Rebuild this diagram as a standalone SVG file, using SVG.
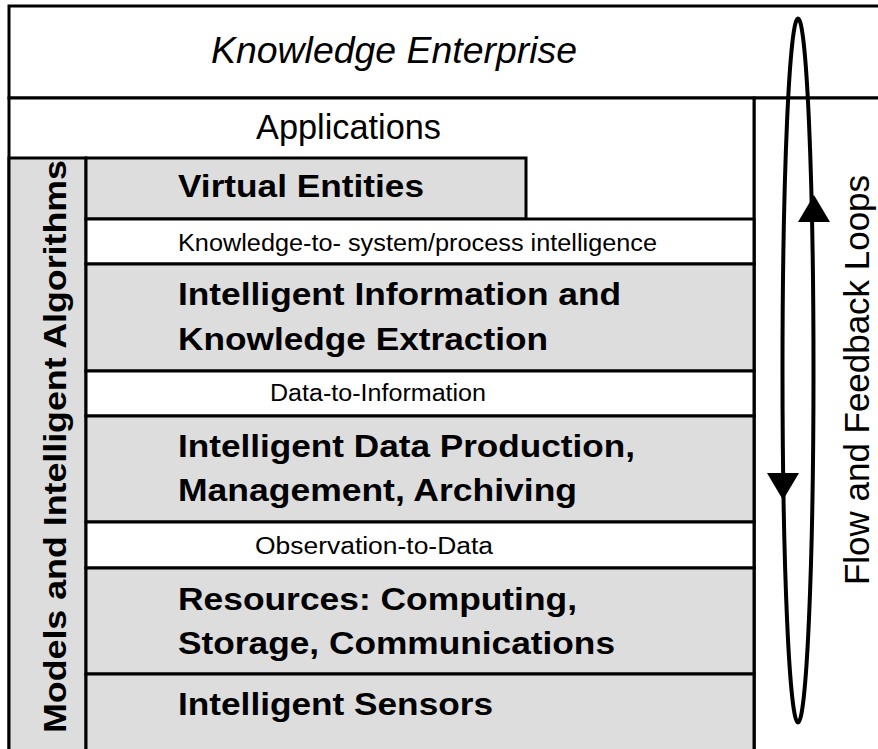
<svg xmlns="http://www.w3.org/2000/svg" width="878" height="749" viewBox="0 0 878 749">
<style>
.box{stroke:#000;stroke-width:3}
.w{fill:#fff}
.g{fill:#dddddd}
text{font-family:"Liberation Sans",Arial,sans-serif;fill:#000}
.big{font-size:32px;font-weight:bold}
.small{font-size:23px}
.loop{fill:none;stroke:#000;stroke-width:4}
</style>
<rect width="878" height="749" fill="#fff"/>
<g id="knowledge-enterprise">
<rect class="box w" x="9" y="6" width="880" height="92"/>
<text x="211" y="63" font-size="36" font-style="italic" textLength="366" lengthAdjust="spacingAndGlyphs">Knowledge Enterprise</text>
</g>
<g id="flow-column">
<rect class="box w" x="754" y="98" width="140" height="660"/>
</g>
<g id="applications">
<rect class="box w" x="9" y="98" width="745" height="660"/>
<text x="256" y="139" font-size="34.3" textLength="185" lengthAdjust="spacingAndGlyphs">Applications</text>
</g>
<g id="models-algorithms">
<rect class="box g" x="9" y="158" width="77" height="600"/>
<text class="big" transform="translate(66 446.5) rotate(-90)" text-anchor="middle" font-size="36" textLength="573" lengthAdjust="spacingAndGlyphs">Models and Intelligent Algorithms</text>
</g>
<g id="virtual-entities">
<rect class="box g" x="86" y="158" width="440" height="61"/>
<text class="big" x="178" y="197" textLength="246" lengthAdjust="spacingAndGlyphs">Virtual Entities</text>
</g>
<g id="knowledge-to-system">
<rect class="box w" x="86" y="219" width="668" height="45"/>
<text class="small" x="178" y="251" textLength="479" lengthAdjust="spacingAndGlyphs">Knowledge-to- system/process intelligence</text>
</g>
<g id="information-extraction">
<rect class="box g" x="86" y="264" width="668" height="107"/>
<text class="big" x="178" y="305" textLength="443" lengthAdjust="spacingAndGlyphs">Intelligent Information and</text>
<text class="big" x="178" y="350" textLength="370" lengthAdjust="spacingAndGlyphs">Knowledge Extraction</text>
</g>
<g id="data-to-information">
<rect class="box w" x="86" y="371" width="668" height="45"/>
<text class="small" x="270" y="401" textLength="216" lengthAdjust="spacingAndGlyphs">Data-to-Information</text>
</g>
<g id="data-production">
<rect class="box g" x="86" y="416" width="668" height="106"/>
<text class="big" x="178" y="457" textLength="457" lengthAdjust="spacingAndGlyphs">Intelligent Data Production,</text>
<text class="big" x="178" y="501" textLength="399" lengthAdjust="spacingAndGlyphs">Management, Archiving</text>
</g>
<g id="observation-to-data">
<rect class="box w" x="86" y="522" width="668" height="46"/>
<text class="small" x="255" y="554" textLength="238" lengthAdjust="spacingAndGlyphs">Observation-to-Data</text>
</g>
<g id="resources">
<rect class="box g" x="86" y="568" width="668" height="106"/>
<text class="big" x="178" y="610" textLength="399" lengthAdjust="spacingAndGlyphs">Resources: Computing,</text>
<text class="big" x="178" y="654" textLength="437" lengthAdjust="spacingAndGlyphs">Storage, Communications</text>
</g>
<g id="sensors">
<rect class="box g" x="86" y="674" width="668" height="84"/>
<text class="big" x="178" y="715" textLength="315" lengthAdjust="spacingAndGlyphs">Intelligent Sensors</text>
</g>
<g id="flow-label">
<text transform="translate(869 380) rotate(-90)" text-anchor="middle" font-size="35" textLength="410" lengthAdjust="spacingAndGlyphs">Flow and Feedback Loops</text>
</g>
<g id="connectors">
<ellipse class="loop" cx="798" cy="370.5" rx="15.5" ry="352"/>
<polygon points="814,195 830,222 798,222" fill="#000"/>
<polygon points="783,500 799,473 767,473" fill="#000"/>
</g>
</svg>
